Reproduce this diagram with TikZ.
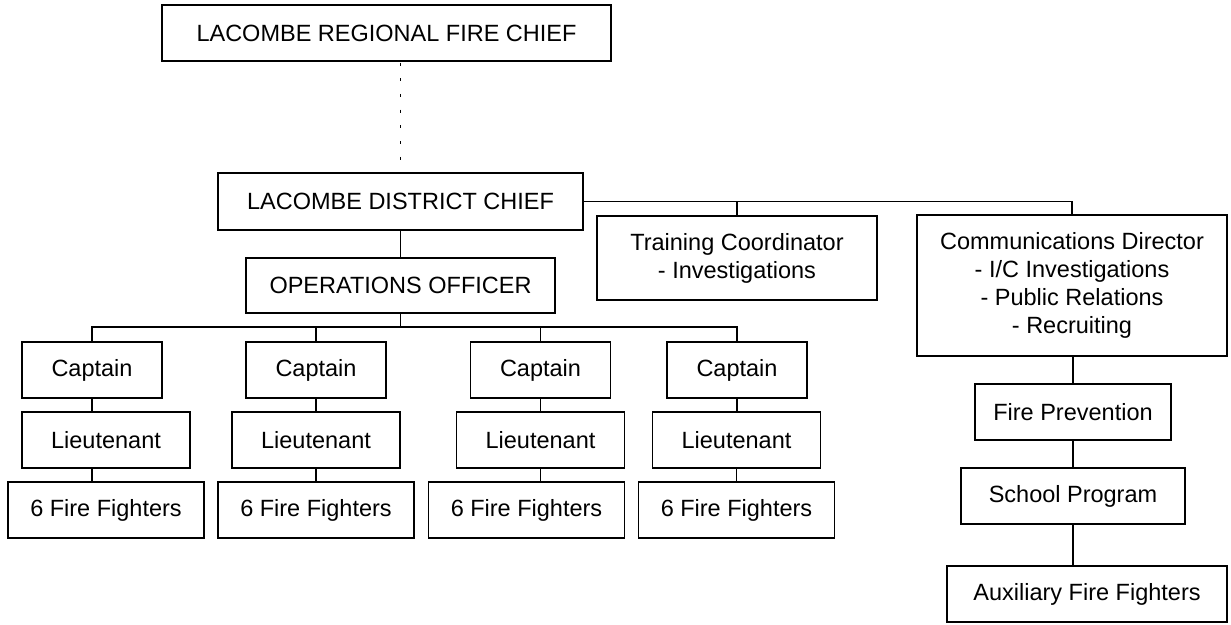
\documentclass[tikz,border=0pt]{standalone}
\usepackage{fontspec}
\setmainfont{Liberation Sans}
\begin{document}
\begin{tikzpicture}[x=1pt,y=-1pt,
  box/.style={draw=black, line width=1.1pt, inner sep=0pt, align=center,
    font=\fontsize{23.5}{28}\selectfont, text=black},
  conn/.style={draw=black, line width=1.1pt},
  dotconn/.style={draw=black, line width=1.1pt, dash pattern=on 3pt off 12.7pt, dash phase=-1pt}]
\useasboundingbox (0,0) rectangle (1231,624);
% top
\node[box, minimum width=449pt, minimum height=56pt] (reg) at (386.5,33) {LACOMBE REGIONAL FIRE CHIEF};
\node[box, minimum width=365pt, minimum height=57pt] (dist) at (400.5,201.5) {LACOMBE DISTRICT CHIEF};
\node[box, minimum width=309pt, minimum height=55pt] (ops) at (400.5,285.5) {OPERATIONS OFFICER};
\node[box, minimum width=280pt, minimum height=84pt] (train) at (737,258) {Training Coordinator\\- Investigations};
\node[box, minimum width=310pt, minimum height=141pt] (comm) at (1072,285.5) {Communications Director\\- I/C Investigations\\- Public Relations\\- Recruiting};
\node[box, minimum width=196pt, minimum height=56pt] (firep) at (1073,412) {Fire Prevention};
\node[box, minimum width=224pt, minimum height=56pt] (school) at (1073,496) {School Program};
\node[box, minimum width=280pt, minimum height=56pt] (aux) at (1087,594) {Auxiliary Fire Fighters};
% captains
\node[box, minimum width=140pt, minimum height=56pt] (c1) at (92,370) {Captain};
\node[box, minimum width=140pt, minimum height=56pt] (c2) at (316,370) {Captain};
\node[box, minimum width=140pt, minimum height=56pt] (c3) at (540.5,370) {Captain};
\node[box, minimum width=140pt, minimum height=56pt] (c4) at (737,370) {Captain};
% lieutenants
\node[box, minimum width=168pt, minimum height=56pt] (l1) at (106,440) {Lieutenant};
\node[box, minimum width=168pt, minimum height=56pt] (l2) at (316,440) {Lieutenant};
\node[box, minimum width=168pt, minimum height=56pt] (l3) at (540.5,440) {Lieutenant};
\node[box, minimum width=168pt, minimum height=56pt] (l4) at (736.5,440) {Lieutenant};
% fire fighters
\node[box, minimum width=196pt, minimum height=56pt] (f1) at (106,510) {6 Fire Fighters};
\node[box, minimum width=196pt, minimum height=56pt] (f2) at (316,510) {6 Fire Fighters};
\node[box, minimum width=196pt, minimum height=56pt] (f3) at (526.5,510) {6 Fire Fighters};
\node[box, minimum width=196pt, minimum height=56pt] (f4) at (736.5,510) {6 Fire Fighters};
\coordinate (bus) at (400.5,327);
% connectors
\draw[dotconn] (dist.north |- reg.south) -- (dist.north);
\draw[conn] (dist.south) -- (ops.north);
\draw[conn] (dist.east) -| (comm.north);
\draw[conn] (train.north) -- (train.north |- dist.east);
\draw[conn] (ops.south) -- (bus);
\draw[conn] (c1.north) |- (bus) -| (c4.north);
\draw[conn] (c2.north) -- (c2.north |- bus);
\draw[conn] (c3.north) -- (c3.north |- bus);
\draw[conn] (c1.south) -- (c1.south |- l1.north);
\draw[conn] (c1.south |- l1.south) -- (c1.south |- f1.north);
\draw[conn] (c2.south) -- (l2.north);
\draw[conn] (l2.south) -- (f2.north);
\draw[conn] (c3.south) -- (l3.north);
\draw[conn] (l3.south) -- (l3.south |- f3.north);
\draw[conn] (c4.south) -- (c4.south |- l4.north);
\draw[conn] (l4.south) -- (f4.north);
\draw[conn] (firep.north |- comm.south) -- (firep.north);
\draw[conn] (firep.south) -- (school.north);
\draw[conn] (school.south) -- (school.south |- aux.north);
\end{tikzpicture}
\end{document}
